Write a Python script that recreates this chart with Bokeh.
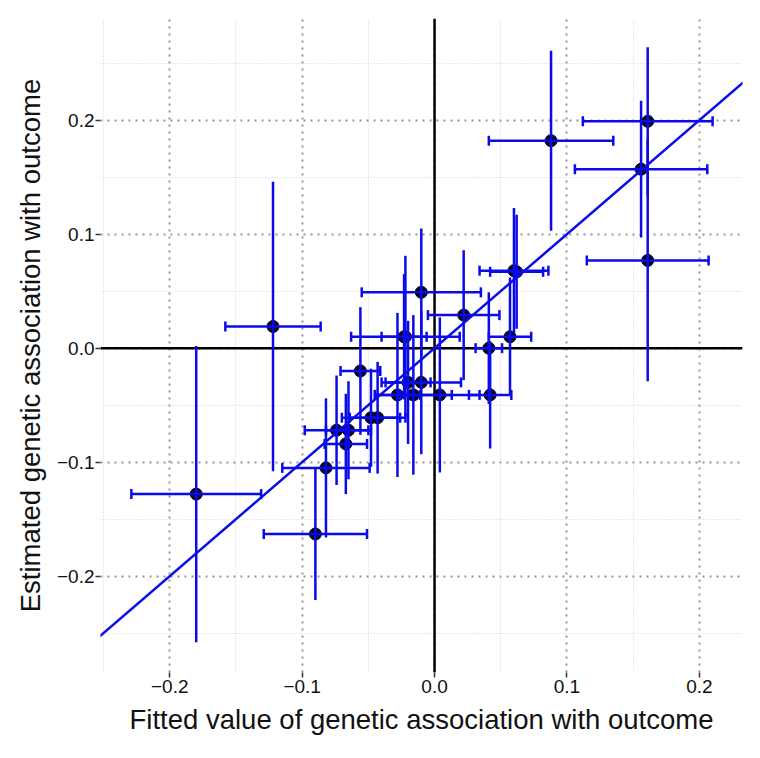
from bokeh.plotting import figure
from bokeh.models import (ColumnDataSource, Range1d, FixedTicker, CustomJSTickFormatter,
                          Span, Whisker, TeeHead, Slope)
from bokeh.embed import file_html
from bokeh.resources import INLINE

# fitted value (x) and estimated association (y) with half-widths of the error bars
fitted = [-0.180, -0.090, -0.122, 0.088, 0.161, 0.156, 0.161, 0.060, 0.062, 0.022,
          -0.010, -0.022, -0.023, -0.056, -0.020, -0.010, -0.028, -0.016, 0.004, 0.042,
          0.041, 0.057, -0.048, -0.043, -0.074, -0.065, -0.067, -0.082]
estimated = [-0.128, -0.163, 0.019, 0.182, 0.199, 0.157, 0.077, 0.068, 0.067, 0.029,
             0.049, 0.010, 0.010, -0.020, -0.030, -0.030, -0.041, -0.041, -0.041, -0.041,
             0.000, 0.010, -0.061, -0.061, -0.072, -0.072, -0.084, -0.105]
fitted_err = [0.049, 0.039, 0.036, 0.047, 0.049, 0.050, 0.046, 0.026, 0.020, 0.027,
              0.045, 0.041, 0.017, 0.015, 0.017, 0.030, 0.017, 0.029, 0.030, 0.016,
              0.010, 0.016, 0.022, 0.021, 0.024, 0.017, 0.016, 0.033]
estimated_err = [0.130, 0.058, 0.127, 0.079, 0.065, 0.060, 0.106, 0.055, 0.050, 0.057,
                 0.056, 0.071, 0.055, 0.056, 0.054, 0.063, 0.072, 0.070, 0.068, 0.047,
                 0.049, 0.052, 0.043, 0.049, 0.048, 0.043, 0.044, 0.061]

# fitted line
fit_slope = 1.0
fit_intercept = 0.0

tick_values = [-0.2, -0.1, 0.0, 0.1, 0.2]
minor_values = [-0.25, -0.15, -0.05, 0.05, 0.15, 0.25]

BLUE = "#0a0aec"
FONT = "Liberation Sans"

src = ColumnDataSource(dict(
    x=fitted, y=estimated,
    xl=[a - e for a, e in zip(fitted, fitted_err)],
    xu=[a + e for a, e in zip(fitted, fitted_err)],
    yl=[a - e for a, e in zip(estimated, estimated_err)],
    yu=[a + e for a, e in zip(estimated, estimated_err)],
))

p = figure(frame_width=642, frame_height=654, output_backend="svg", toolbar_location=None,
           x_range=Range1d(-0.2523, 0.2326), y_range=Range1d(-0.2845, 0.2892),
           min_border_left=100, min_border_top=18, min_border_right=8, min_border_bottom=76)
p.outline_line_color = None
p.background_fill_color = "white"

fmt = CustomJSTickFormatter(code="return tick.toFixed(1).replace('-', '\u2212');")
for ax in (p.xaxis[0], p.yaxis[0]):
    ax.ticker = FixedTicker(ticks=tick_values, minor_ticks=minor_values)
    ax.formatter = fmt
    ax.axis_line_color = None
    ax.major_tick_in = 0
    ax.major_tick_out = 5
    ax.major_tick_line_color = "#333333"
    ax.major_tick_line_width = 1.5
    ax.minor_tick_line_color = None
    ax.major_label_text_font = FONT
    ax.major_label_text_font_size = "19px"
    ax.major_label_text_color = "#111111"
    ax.axis_label_text_font = FONT
    ax.axis_label_text_font_size = "27.5px"
    ax.axis_label_text_font_style = "normal"
    ax.axis_label_text_color = "#111111"

p.xaxis.axis_label = "Fitted value of genetic association with outcome"
p.yaxis.axis_label = "Estimated genetic association with outcome"
p.xaxis.major_label_standoff = 2
p.yaxis.major_label_standoff = 1
p.xaxis.axis_label_standoff = 8
p.yaxis.axis_label_standoff = 8

for g in (p.xgrid[0], p.ygrid[0]):
    g.grid_line_color = "#959595"
    g.grid_line_width = 2
    g.grid_line_dash = "2 5"
    g.minor_grid_line_color = "#d2d2d2"
    g.minor_grid_line_width = 1
    g.minor_grid_line_dash = "1 2"

# zero lines
p.add_layout(Span(location=0, dimension="height", line_color="black", line_width=2.5, level="underlay"))
p.add_layout(Span(location=0, dimension="width", line_color="black", line_width=2.5, level="underlay"))

p.scatter("x", "y", source=src, size=12, fill_color="#05052a", line_color="black", line_width=1)

# error bars
p.add_layout(Whisker(source=src, base="y", lower="xl", upper="xu", dimension="width",
                     line_color=BLUE, line_width=2.5, level="annotation",
                     lower_head=TeeHead(size=10, line_color=BLUE, line_width=2.5),
                     upper_head=TeeHead(size=10, line_color=BLUE, line_width=2.5)))
p.add_layout(Whisker(source=src, base="x", lower="yl", upper="yu", dimension="height",
                     line_color=BLUE, line_width=2.5, level="annotation",
                     lower_head=None, upper_head=None))

p.add_layout(Slope(gradient=fit_slope, y_intercept=fit_intercept, line_color=BLUE, line_width=2.5))

open("out.html", "w").write(file_html(p, INLINE))
